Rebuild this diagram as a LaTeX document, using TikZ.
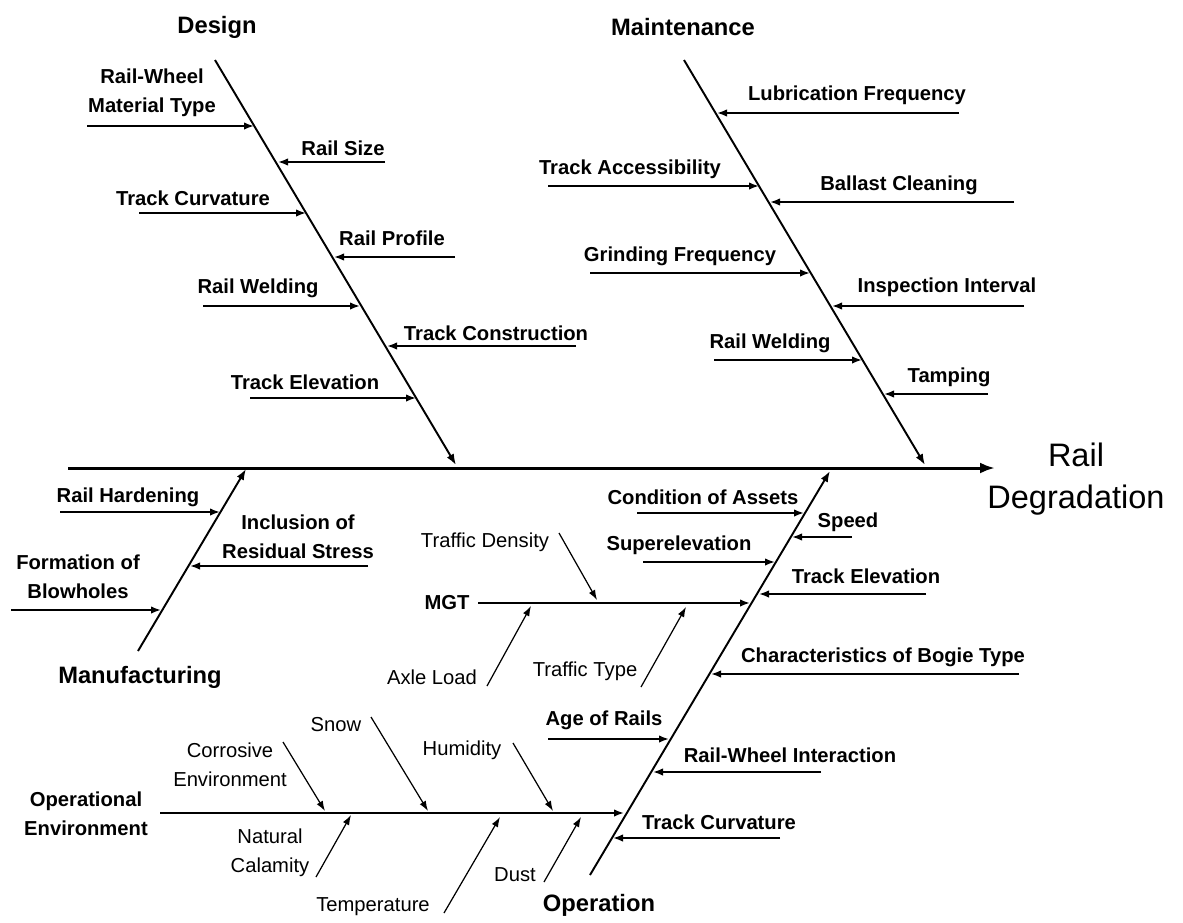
\documentclass[tikz,border=0pt]{standalone}
\usepackage{fontspec}
\setmainfont{Liberation Sans}
\usetikzlibrary{arrows.meta}

\begin{document}
\begin{tikzpicture}[x=0.2mm, y=-0.2mm,
    spine/.style={line width=1.7pt, -{Latex[length=3mm,width=2.2mm]}},
    bone/.style={line width=1.1pt, -{Latex[length=2.2mm,width=1.6mm]}},
    cause/.style={line width=1pt, -{Latex[length=2mm,width=1.5mm]}},
    sub/.style={line width=0.7pt, -{Latex[length=2mm,width=1.4mm]}},
    cat/.style={font=\fontsize{13.5}{16}\selectfont\bfseries, inner sep=0pt},
    lbl/.style={font=\fontsize{11.5}{16.5}\selectfont\bfseries, inner sep=0pt, align=center},
    sublbl/.style={font=\fontsize{11.5}{16.5}\selectfont, inner sep=0pt, align=center}]
  \useasboundingbox (0,0) rectangle (1183,923);

  % main spine
  \coordinate (sp-t) at (68,468);
  \coordinate (sp-h) at (995,468);
  \draw[spine] (sp-t) -- (sp-h);
  \node[font=\fontsize{18.5}{23.8}\selectfont, inner sep=0pt, align=center] (effect) at (1076,479) {Rail\\Degradation};

  % Design
  \node[cat] (design) at (217,27) {Design};
  \coordinate (des-t) at (215,60);
  \coordinate (des-h) at (456,465);
  \draw[bone] (des-t) -- (des-h);

  \node[lbl] (rwm) at (152,92.5) {Rail-Wheel\\Material Type};
  \coordinate (rwm-t) at (87,126);  \coordinate (rwm-h) at (254,126);
  \draw[cause] (rwm-t) -- (rwm-h);
  \node[lbl] (rsz) at (343,148) {Rail Size};
  \coordinate (rsz-t) at (385,162); \coordinate (rsz-h) at (278,162);
  \draw[cause] (rsz-t) -- (rsz-h);
  \node[lbl] (tcv) at (193,198) {Track Curvature};
  \coordinate (tcv-t) at (139,213); \coordinate (tcv-h) at (306,213);
  \draw[cause] (tcv-t) -- (tcv-h);
  \node[lbl] (rpf) at (392,238) {Rail Profile};
  \coordinate (rpf-t) at (455,257); \coordinate (rpf-h) at (334,257);
  \draw[cause] (rpf-t) -- (rpf-h);
  \node[lbl] (rwd) at (258,288) {Rail Welding};
  \coordinate (rwd-t) at (203,306); \coordinate (rwd-h) at (360,306);
  \draw[cause] (rwd-t) -- (rwd-h);
  \node[lbl] (tcn) at (496,333) {Track Construction};
  \coordinate (tcn-t) at (576,346); \coordinate (tcn-h) at (387,346);
  \draw[cause] (tcn-t) -- (tcn-h);
  \node[lbl] (tel) at (305,382) {Track Elevation};
  \coordinate (tel-t) at (250,398); \coordinate (tel-h) at (416,398);
  \draw[cause] (tel-t) -- (tel-h);

  % Maintenance
  \node[cat] (maint) at (683,27) {Maintenance};
  \coordinate (mnt-t) at (684,60);
  \coordinate (mnt-h) at (925,465);
  \draw[bone] (mnt-t) -- (mnt-h);

  \node[lbl] (lub) at (857,95) {Lubrication Frequency};
  \coordinate (lub-t) at (959,113); \coordinate (lub-h) at (717,113);
  \draw[cause] (lub-t) -- (lub-h);
  \node[lbl] (tac) at (630,169) {Track Accessibility};
  \coordinate (tac-t) at (548,186); \coordinate (tac-h) at (759,186);
  \draw[cause] (tac-t) -- (tac-h);
  \node[lbl] (bcl) at (899,185) {Ballast Cleaning};
  \coordinate (bcl-t) at (1014,202); \coordinate (bcl-h) at (770,202);
  \draw[cause] (bcl-t) -- (bcl-h);
  \node[lbl] (grf) at (680,256) {Grinding Frequency};
  \coordinate (grf-t) at (590,273); \coordinate (grf-h) at (810,273);
  \draw[cause] (grf-t) -- (grf-h);
  \node[lbl] (ins) at (947,287) {Inspection Interval};
  \coordinate (ins-t) at (1024,306); \coordinate (ins-h) at (832,306);
  \draw[cause] (ins-t) -- (ins-h);
  \node[lbl] (mrw) at (770,343) {Rail Welding};
  \coordinate (mrw-t) at (714,360); \coordinate (mrw-h) at (862,360);
  \draw[cause] (mrw-t) -- (mrw-h);
  \node[lbl] (tmp) at (949,377) {Tamping};
  \coordinate (tmp-t) at (988,394); \coordinate (tmp-h) at (884,394);
  \draw[cause] (tmp-t) -- (tmp-h);

  % Manufacturing
  \node[cat] (manuf) at (140,677) {Manufacturing};
  \coordinate (man-t) at (138,651);
  \coordinate (man-h) at (246,469);
  \draw[bone] (man-t) -- (man-h);

  \node[lbl] (rhd) at (128,497) {Rail Hardening};
  \coordinate (rhd-t) at (60,512);  \coordinate (rhd-h) at (220,512);
  \draw[cause] (rhd-t) -- (rhd-h);
  \node[lbl] (irs) at (298,537) {Inclusion of\\Residual Stress};
  \coordinate (irs-t) at (368,566); \coordinate (irs-h) at (190,566);
  \draw[cause] (irs-t) -- (irs-h);
  \node[lbl] (fbh) at (78,576.5) {Formation of\\Blowholes};
  \coordinate (fbh-t) at (11,610);  \coordinate (fbh-h) at (161,610);
  \draw[cause] (fbh-t) -- (fbh-h);

  % Operation
  \node[cat] (oper) at (599,905) {Operation};
  \coordinate (op-t) at (590,875);
  \coordinate (op-h) at (830,471);
  \draw[bone] (op-t) -- (op-h);

  \node[lbl] (coa) at (703,497) {Condition of Assets};
  \coordinate (coa-t) at (637,513); \coordinate (coa-h) at (804,513);
  \draw[cause] (coa-t) -- (coa-h);
  \node[lbl] (spd) at (848,522) {Speed};
  \coordinate (spd-t) at (852,537); \coordinate (spd-h) at (792,537);
  \draw[cause] (spd-t) -- (spd-h);
  \node[lbl] (sup) at (679,545) {Superelevation};
  \coordinate (sup-t) at (643,562); \coordinate (sup-h) at (775,562);
  \draw[cause] (sup-t) -- (sup-h);
  \node[lbl] (ote) at (866,576) {Track Elevation};
  \coordinate (ote-t) at (926,594); \coordinate (ote-h) at (759,594);
  \draw[cause] (ote-t) -- (ote-h);

  % MGT branch
  \node[lbl] (mgt) at (447,603) {MGT};
  \coordinate (mgt-t) at (478,603); \coordinate (mgt-h) at (750,603);
  \draw[cause] (mgt-t) -- (mgt-h);
  \node[sublbl] (tdn) at (485,542) {Traffic Density};
  \coordinate (tdn-t) at (559,533); \coordinate (tdn-h) at (597,600);
  \draw[sub] (tdn-t) -- (tdn-h);
  \node[sublbl] (axl) at (432,677) {Axle Load};
  \coordinate (axl-t) at (487,686); \coordinate (axl-h) at (531,606);
  \draw[sub] (axl-t) -- (axl-h);
  \node[sublbl] (tty) at (585,671) {Traffic Type};
  \coordinate (tty-t) at (641,687); \coordinate (tty-h) at (686,607);
  \draw[sub] (tty-t) -- (tty-h);

  \node[lbl] (cbt) at (883,657) {Characteristics of Bogie Type};
  \coordinate (cbt-t) at (1019,674); \coordinate (cbt-h) at (711,674);
  \draw[cause] (cbt-t) -- (cbt-h);
  \node[lbl] (aor) at (604,720) {Age of Rails};
  \coordinate (aor-t) at (548,739); \coordinate (aor-h) at (669,739);
  \draw[cause] (aor-t) -- (aor-h);
  \node[lbl] (rwi) at (790,755) {Rail-Wheel Interaction};
  \coordinate (rwi-t) at (821,772); \coordinate (rwi-h) at (653,772);
  \draw[cause] (rwi-t) -- (rwi-h);

  % Operational Environment branch
  \node[lbl] (openv) at (86,814) {Operational\\Environment};
  \coordinate (oe-t) at (160,813); \coordinate (oe-h) at (624,813);
  \draw[cause] (oe-t) -- (oe-h);
  \node[sublbl] (cor) at (230,764.5) {Corrosive\\Environment};
  \coordinate (cor-t) at (283,742); \coordinate (cor-h) at (325,811);
  \draw[sub] (cor-t) -- (cor-h);
  \node[sublbl] (snw) at (336,725) {Snow};
  \coordinate (snw-t) at (371,717); \coordinate (snw-h) at (428,811);
  \draw[sub] (snw-t) -- (snw-h);
  \node[sublbl] (hum) at (462,750) {Humidity};
  \coordinate (hum-t) at (513,743); \coordinate (hum-h) at (553,811);
  \draw[sub] (hum-t) -- (hum-h);
  \node[sublbl] (ncl) at (270,853) {Natural\\Calamity};
  \coordinate (ncl-t) at (316,877); \coordinate (ncl-h) at (351,815);
  \draw[sub] (ncl-t) -- (ncl-h);
  \node[sublbl] (tmpr) at (373,907) {Temperature};
  \coordinate (tmpr-t) at (444,913); \coordinate (tmpr-h) at (500,817);
  \draw[sub] (tmpr-t) -- (tmpr-h);
  \node[sublbl] (dst) at (515,875) {Dust};
  \coordinate (dst-t) at (544,882); \coordinate (dst-h) at (581,817);
  \draw[sub] (dst-t) -- (dst-h);

  \node[lbl] (otc) at (719,822) {Track Curvature};
  \coordinate (otc-t) at (780,838); \coordinate (otc-h) at (613,838);
  \draw[cause] (otc-t) -- (otc-h);
\end{tikzpicture}
\end{document}
